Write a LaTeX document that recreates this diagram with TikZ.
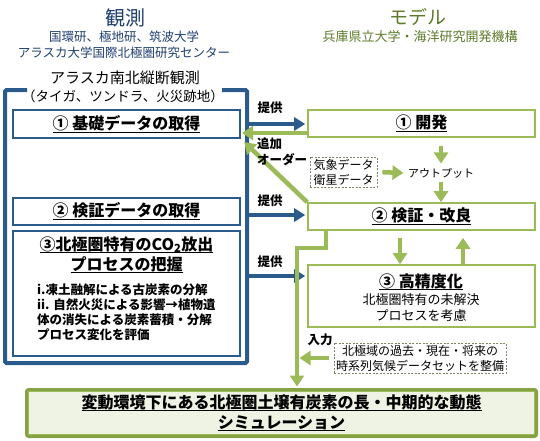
\documentclass[tikz,border=0pt]{standalone}
\usepackage{fontspec}
\setmainfont{Noto Sans CJK JP}
\usetikzlibrary{arrows.meta,positioning,calc}
\definecolor{Bc}{HTML}{2B5A8C}
\definecolor{Bt}{HTML}{1F3F6E}
\definecolor{Gc}{HTML}{9BBB59}
\definecolor{Gd}{HTML}{86A244}
\definecolor{Gt}{HTML}{5C7A2A}
\definecolor{Dc}{HTML}{7A8466}
\definecolor{Fc}{HTML}{EEF3E4}
\newcommand{\fsz}[2]{\fontsize{#1}{#2}\selectfont}
\newcommand{\uln}[1]{\setbox0\hbox{#1}\rlap{\rule[-3.2pt]{\wd0}{1.1pt}}\box0}
\tikzset{
  obsbox/.style={draw=Bc, line width=1.2pt, minimum width=227pt, inner sep=0pt},
  modbox/.style={draw=Gc, line width=1.6pt, minimum width=227pt, inner sep=0pt},
  databox/.style={draw=Dc, dash pattern=on 2pt off 1.5pt, line width=0.8pt, align=center, inner sep=2pt, font=\fsz{12}{15}},
  frame/.style={draw=Bc, line width=4pt, rounded corners=1.5pt},
  barrow/.style={draw=Bc, line width=4.3pt, -{Triangle[length=11pt,width=13pt]}},
  garrow/.style={draw=Gc, line width=4.5pt, -{Triangle[length=11pt,width=14pt]}},
  title/.style={font=\fsz{16}{20}\bfseries, align=center},
  lbl/.style={font=\fsz{12.5}{16}\bfseries, align=left, inner sep=0pt},
}

\begin{document}
\begin{tikzpicture}[x=1pt, y=-1pt]
  \useasboundingbox (0,0) rectangle (540,440);
  % headers
  \node[font=\fsz{20}{22}, text=Bt] (obshead) at (125,18) {観測};
  \node[font=\fsz{12.5}{16}, text=Bt, align=center] (obsorg) at (124,45) {国環研、極地研、筑波大学\\アラスカ大学国際北極圏研究センター};
  \node[font=\fsz{15}{18}, align=center] (site) at (125,78) {アラスカ南北縦断観測};
  \node[font=\fsz{13.5}{18}, align=center] (sitekind) at (123,96) {（タイガ、ツンドラ、火災跡地）};
  \node[font=\fsz{19}{22}, text=Gt] (modhead) at (418,17) {モデル};
  \node[font=\fsz{13}{16}, text=Gt] (modorg) at (420,37) {兵庫県立大学・海洋研究開発機構};
  % observation frame
  \draw[frame] (27,90) -- (5,90) -- (5,363) -- (247,363) -- (247,90) -- (222,90);
  \node[obsbox, minimum height=28pt, title] (obs1) at (126.5,124) {\uln{① 基礎データの取得}};
  \node[obsbox, minimum height=27pt, title] (obs2) at (126.5,211.5) {\uln{② 検証データの取得}};
  \node[obsbox, minimum height=125pt] (obs3) at (126.5,293.5) {};
  \node[title] (obs3title) at (126.5,255) {\uln{③北極圏特有のCO\textsubscript{2}放出}\\\uln{プロセスの把握}};
  \node[lbl, anchor=north west, font=\fsz{12.5}{14.7}\bfseries] (obs3body) at (37,284) {i.凍土融解による古炭素の分解\\ii. 自然火災による影響→植物遺\\体の消失による炭素蓄積・分解\\プロセス変化を評価};
  % model boxes
  \node[modbox, minimum height=27pt, title] (dev) at (421.5,123.5) {\uln{① 開発}};
  \node[modbox, minimum height=27pt, title] (verif) at (421.5,216.5) {\uln{② 検証・改良}};
  \node[modbox, minimum height=62pt] (refine) at (421.5,296) {};
  \node[title] (refinetitle) at (421,282) {\uln{③ 高精度化}};
  \node[font=\fsz{13}{16}, align=center] (refinebody) at (421,308) {北極圏特有の未解決\\プロセスを考慮};
  \node[databox, minimum width=67pt, minimum height=30pt] (met) at (343.5,172) {気象データ\\衛星データ};
  \node[font=\fsz{11}{14}] (output) at (441,173) {アウトプット};
  \node[databox, minimum width=164pt, minimum height=30pt] (clim) at (420,358) {北極域の過去・現在・将来の\\時系列気候データセットを整備};
  % result
  \node[draw=Gd, line width=3.5pt, fill=Fc, rounded corners=2pt, minimum width=509.5pt, minimum height=46.5pt, font=\fsz{16}{20}\bfseries, align=center] (sim) at (281.5,413) {\uln{変動環境下にある北極圏土壌有炭素の長・中期的な動態}\\\uln{シミュレーション}};
  \draw[Gc, line width=0.8pt] ([shift={(3.5pt,-3.5pt)}]sim.north west) rectangle ([shift={(-3.5pt,3.5pt)}]sim.south east);
  % supply arrows
  \coordinate (fr1) at (247,124);
  \coordinate (fr2) at (247,215);
  \coordinate (fr3) at (247,276);
  \draw[barrow, shorten >=2pt] (fr1) -- (fr1 -| dev.west);
  \draw[barrow, shorten >=2pt] (fr2) -- (fr2 -| verif.west);
  \draw[barrow, shorten >=2pt] (fr3) -- (fr3 -| refine.west);
  \node[lbl] (give1) at (270,108) {提供};
  \node[lbl] (give2) at (270,201) {提供};
  \node[lbl] (give3) at (270,262) {提供};
  % model arrows
  \draw[garrow, shorten >=1.5pt] ([yshift=-9.5pt]dev.west) -- ([yshift=-9.5pt]dev.west -| obs1.east);
  \draw[garrow, shorten >=5pt] (verif.north west) -- (obs1.south east);
  \node[lbl, anchor=west] (order) at (257,152) {追加\\オーダー};
  \draw[garrow, shorten <=8pt, shorten >=1pt] (dev.south -| output) -- (output.north);
  \draw[garrow] (output.south) -- (output.south |- verif.north);
  \draw[garrow, shorten <=5pt, shorten >=1pt] (met.east) -- (output.west);
  \draw[garrow, shorten <=7pt] ([xshift=-21.5pt]verif.south) -- ([xshift=-21.5pt]refine.north);
  \draw[garrow, shorten >=7pt] ([xshift=41.5pt]refine.north) -- ([xshift=41.5pt]verif.south);
  \coordinate (bend) at (297,248);
  \draw[garrow, shorten >=1.5pt] ([xshift=-95.5pt]verif.south) |- (bend) -- (bend |- sim.north);
  \draw[garrow, shorten <=5pt, shorten >=2.5pt] (clim.west) -- (clim.west -| bend);
  \node[lbl] (input) at (320,340) {入力};
\end{tikzpicture}
\end{document}
